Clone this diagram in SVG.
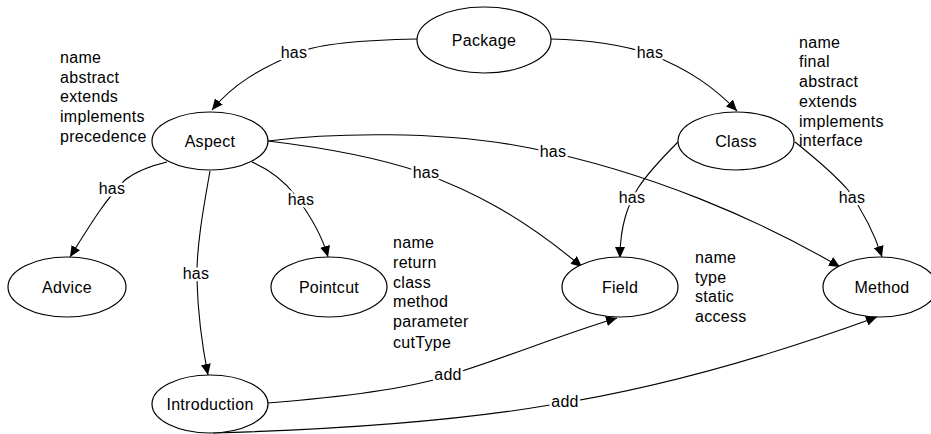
<svg xmlns="http://www.w3.org/2000/svg" width="931" height="434" viewBox="0 0 931 434">
<defs>
<marker id="arr" markerUnits="userSpaceOnUse" markerWidth="12" markerHeight="10" refX="11" refY="5" orient="auto">
<path d="M0,0 L11,5 L0,10 z" fill="#000"/>
</marker>
<style>
.node ellipse{fill:#fff;stroke:#000;stroke-width:1.2}
text{font-family:"Liberation Sans",Arial,sans-serif;font-size:16px;letter-spacing:0.3px;fill:#000}
.nl{text-anchor:middle}
.el{text-anchor:middle;stroke:#fff;stroke-width:5;paint-order:stroke;stroke-linejoin:round}
.edges path{fill:none;stroke:#000;stroke-width:1.1;marker-end:url(#arr)}
</style>
</defs>
<rect width="931" height="434" fill="#fff"/>
<g class="edges" id="edges">
<path d="M417,39 C360,40 320,44 300,52 C260,68 232,85 212,110"/>
<path d="M551,39 C590,40 620,44 650,54 C690,70 715,88 737,111"/>
<path d="M167,162 C150,166 135,172 125,180 C105,200 90,225 70,257"/>
<path d="M210,171 C203,210 196,250 197,280 C198,320 203,350 208,375"/>
<path d="M252,162 C270,170 285,182 295,195 C310,215 322,235 328,257"/>
<path d="M268,141 C310,146 370,155 420,172 C470,190 520,215 582,267"/>
<path d="M268,141 C330,133 440,130 530,148 C650,172 760,220 840,267"/>
<path d="M678,142 C665,155 650,170 638,188 C628,205 620,225 620,258"/>
<path d="M795,142 C815,158 835,175 848,190 C862,210 874,232 882,257"/>
<path d="M268,403 C330,398 400,390 440,378 C500,360 560,335 617,318"/>
<path d="M213,433 C320,430 450,422 550,405 C680,385 800,345 877,317"/>
<text class="el" x="294" y="58">has</text>
<text class="el" x="650" y="58">has</text>
<text class="el" x="112" y="194">has</text>
<text class="el" x="301" y="205">has</text>
<text class="el" x="426" y="178">has</text>
<text class="el" x="553" y="157">has</text>
<text class="el" x="632" y="203">has</text>
<text class="el" x="852" y="203">has</text>
<text class="el" x="196" y="279">has</text>
<text class="el" x="448" y="380">add</text>
<text class="el" x="565" y="407">add</text>
</g>
<g class="node" id="package"><ellipse cx="484" cy="40" rx="67" ry="33"/><text class="nl" x="484" y="46">Package</text></g>
<g class="node" id="aspect"><ellipse cx="210" cy="141" rx="58" ry="29"/><text class="nl" x="210" y="147">Aspect</text></g>
<g class="node" id="class"><ellipse cx="736" cy="141" rx="58" ry="29"/><text class="nl" x="736" y="147">Class</text></g>
<g class="node" id="advice"><ellipse cx="67" cy="287" rx="59" ry="30"/><text class="nl" x="67" y="293">Advice</text></g>
<g class="node" id="pointcut"><ellipse cx="329" cy="287" rx="58" ry="30"/><text class="nl" x="329" y="293">Pointcut</text></g>
<g class="node" id="field"><ellipse cx="620" cy="287" rx="58" ry="30"/><text class="nl" x="620" y="293">Field</text></g>
<g class="node" id="method"><ellipse cx="880" cy="287" rx="57" ry="30"/><text class="nl" x="882" y="293">Method</text></g>
<g class="node" id="introduction"><ellipse cx="210" cy="404" rx="58" ry="29"/><text class="nl" x="210" y="410">Introduction</text></g>
<g id="aspect-attrs">
<text x="60" y="63">name</text><text x="60" y="83">abstract</text><text x="60" y="102">extends</text><text x="60" y="122">implements</text><text x="60" y="142">precedence</text>
</g>
<g id="class-attrs">
<text x="799" y="48">name</text><text x="799" y="67">final</text><text x="799" y="87">abstract</text><text x="799" y="107">extends</text><text x="799" y="127">implements</text><text x="799" y="146">interface</text>
</g>
<g id="pointcut-attrs">
<text x="393" y="248">name</text><text x="393" y="268">return</text><text x="393" y="288">class</text><text x="393" y="307">method</text><text x="393" y="327">parameter</text><text x="393" y="348">cutType</text>
</g>
<g id="field-attrs">
<text x="695" y="263">name</text><text x="695" y="283">type</text><text x="695" y="302">static</text><text x="695" y="322">access</text>
</g>
</svg>
